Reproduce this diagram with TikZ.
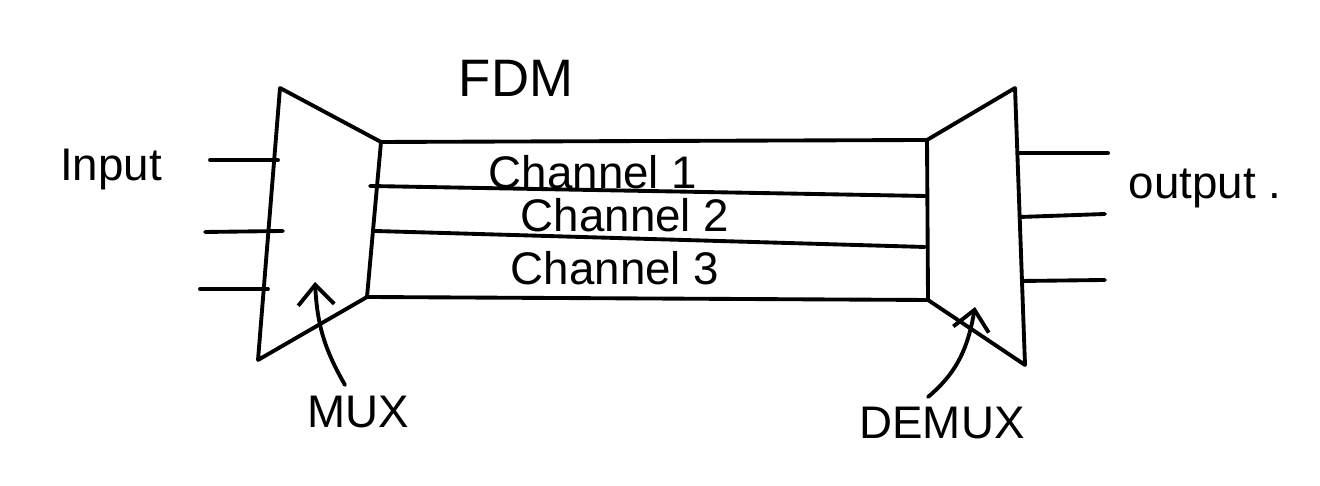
\documentclass[tikz,border=0pt]{standalone}
\usepackage{fontspec}
\setmainfont{Liberation Sans}
\usepackage{tikz}
\usetikzlibrary{
	arrows.meta,
	positioning,
	calc
}

\tikzset{
	pen/.style={line width=1.1pt,line cap=round,line join=round},
	label/.style={inner sep=1pt,font=\fontsize{13}{15}\selectfont}
}

\begin{document}
\begin{tikzpicture}[>={Straight Barb[length=2mm,width=3.6mm]}]
		
		\useasboundingbox (0,0) rectangle (13.2,4.86);
		
		% mux corners
		\coordinate (m1) at (2.80,3.98);
		\coordinate (m2) at (3.81,3.44);
		\coordinate (m3) at (3.67,1.89);
		\coordinate (m4) at (2.58,1.26);
		
		% demux corners
		\coordinate (d1) at (9.27,3.46);
		\coordinate (d2) at (10.15,3.98);
		\coordinate (d3) at (10.25,1.21);
		\coordinate (d4) at (9.28,1.86);
		
		\draw[pen] (m1) -- (m2) -- (m3) -- (m4) -- cycle;
		\draw[pen] (d1) -- (d2) -- (d3) -- (d4) -- cycle;
		
		% channels
		\coordinate (c1a) at (3.70,3.00);
		\coordinate (c1b) at (9.25,2.90);
		\coordinate (c2a) at (3.75,2.55);
		\coordinate (c2b) at (9.25,2.39);
		\draw[pen] (m2) -- (d1);
		\draw[pen] (c1a) -- (c1b);
		\draw[pen] (c2a) -- (c2b);
		\draw[pen] (m3) -- (d4);
		
		% input lines
		\coordinate (i1a) at (2.10,3.26); \coordinate (i1b) at (2.78,3.26);
		\coordinate (i2a) at (2.05,2.54); \coordinate (i2b) at (2.83,2.55);
		\coordinate (i3a) at (2.00,1.97); \coordinate (i3b) at (2.68,1.97);
		\draw[pen] (i1a) -- (i1b);
		\draw[pen] (i2a) -- (i2b);
		\draw[pen] (i3a) -- (i3b);
		
		% output lines
		\coordinate (o1a) at (10.18,3.33); \coordinate (o1b) at (11.08,3.33);
		\coordinate (o2a) at (10.20,2.69); \coordinate (o2b) at (11.05,2.72);
		\coordinate (o3a) at (10.22,2.05); \coordinate (o3b) at (11.05,2.06);
		\draw[pen] (o1a) -- (o1b);
		\draw[pen] (o2a) -- (o2b);
		\draw[pen] (o3a) -- (o3b);
		
		\node[label] (fdm) at (5.16,4.08) {\fontsize{15}{17}\selectfont FDM};
		\node[label] (ch1) at (5.93,3.14) {Channel 1};
		\node[label] (ch2) at (6.25,2.71) {Channel 2};
		\node[label] (ch3) at (6.15,2.18) {Channel 3};
		\node[label] (in) at (1.11,3.16) {Input};
		\node[label] (out) at (12.05,2.98) {output .};
		\node[label] (mux) at (3.58,0.74) {MUX};
		\node[label] (demux) at (9.42,0.63) {DEMUX};
		
		% pointers
		\coordinate (muxtail) at (3.45,1.01);
		\coordinate (muxtip) at (3.15,2.04);
		\coordinate (demuxtail) at (9.28,0.89);
		\coordinate (demuxtip) at (9.75,1.79);
		\draw[pen,->] (muxtail) to[out=120,in=-87] (muxtip);
		\draw[pen,->] (demuxtail) to[out=40,in=-100] (demuxtip);
		
	\end{tikzpicture}
\end{document}
